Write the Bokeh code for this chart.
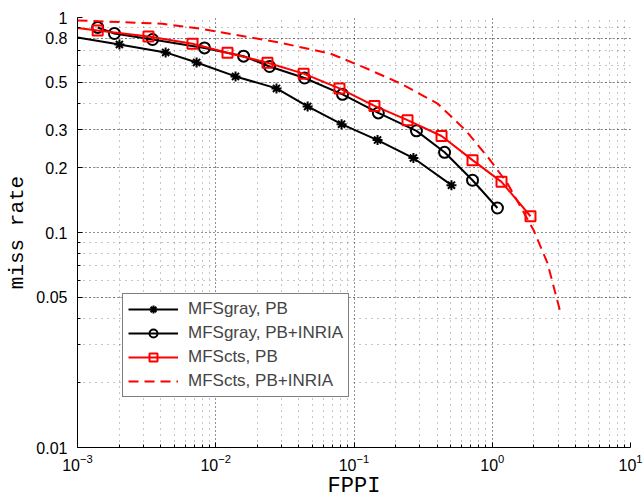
from bokeh.plotting import figure
from bokeh.models import Range1d, FixedTicker, Legend, LegendItem
from bokeh.embed import file_html
from bokeh.resources import INLINE

# ---- data ----
fppi_gray_pb = [0.001, 0.00201, 0.00434, 0.00727, 0.0139, 0.0275, 0.0462, 0.0813, 0.148, 0.269, 0.507]
mr_gray_pb = [0.808, 0.749, 0.688, 0.618, 0.532, 0.468, 0.386, 0.319, 0.269, 0.222, 0.166]

fppi_gray_inria = [0.00140, 0.00185, 0.00349, 0.00829, 0.0159, 0.0245, 0.0439, 0.0826, 0.150, 0.283, 0.452, 0.720, 1.09]
mr_gray_inria = [0.899, 0.843, 0.790, 0.722, 0.661, 0.592, 0.523, 0.439, 0.360, 0.297, 0.236, 0.175, 0.130]

fppi_cts_pb = [0.001, 0.00140, 0.00326, 0.00679, 0.01216, 0.02366, 0.0432, 0.0785, 0.1406, 0.2438, 0.4297, 0.720, 1.167, 1.89]
mr_cts_pb = [0.894, 0.870, 0.816, 0.755, 0.686, 0.616, 0.548, 0.468, 0.388, 0.333, 0.281, 0.217, 0.172, 0.119]

fppi_cts_inria = [0.001, 0.00412, 0.00776, 0.0280, 0.0676, 0.117, 0.217, 0.402, 0.641, 0.925, 1.29, 1.99, 2.51, 3.12]
mr_cts_inria = [0.969, 0.935, 0.886, 0.768, 0.679, 0.588, 0.493, 0.398, 0.299, 0.225, 0.169, 0.1027, 0.0720, 0.0422]

series_labels = ["MFSgray, PB", "MFSgray, PB+INRIA", "MFScts, PB", "MFScts, PB+INRIA"]

x_ticks = [0.001, 0.01, 0.1, 1, 10]
x_minor = [2e-3, 3e-3, 4e-3, 5e-3, 6e-3, 7e-3, 8e-3, 9e-3,
           2e-2, 3e-2, 4e-2, 5e-2, 6e-2, 7e-2, 8e-2, 9e-2,
           0.2, 0.3, 0.4, 0.5, 0.6, 0.7, 0.8, 0.9,
           2, 3, 4, 5, 6, 7, 8, 9]
y_ticks = [0.01, 0.05, 0.1, 0.2, 0.3, 0.5, 0.8, 1]
y_tick_labels = ["0.01", "0.05", "0.1", "0.2", "0.3", "0.5", "0.8", "1"]
y_minor = [0.02, 0.03, 0.04, 0.05, 0.06, 0.07, 0.08, 0.09,
           0.2, 0.3, 0.4, 0.5, 0.6, 0.7, 0.8, 0.9]

p = figure(width=643, height=501, x_axis_type="log", y_axis_type="log",
           x_range=Range1d(1e-3, 10), y_range=Range1d(0.01, 1),
           output_backend="svg", toolbar_location=None,
           min_border_left=77, min_border_right=13, min_border_top=17, min_border_bottom=53)
p.outline_line_color = None
p.background_fill_color = "white"
p.border_fill_color = "white"

p.xaxis.ticker = FixedTicker(ticks=x_ticks, minor_ticks=x_minor)
p.yaxis.ticker = FixedTicker(ticks=y_ticks, minor_ticks=y_minor)
p.yaxis.major_label_overrides = dict(zip(y_ticks, y_tick_labels))

for ax in (p.xaxis[0], p.yaxis[0]):
    ax.axis_line_color = "black"
    ax.axis_line_width = 1
    ax.major_tick_in = 5
    ax.major_tick_out = 0
    ax.minor_tick_in = 3
    ax.minor_tick_out = 0
    ax.major_tick_line_color = "black"
    ax.minor_tick_line_color = "black"
    ax.major_label_text_font = "Liberation Sans"
    ax.major_label_text_font_size = "16px"
    ax.major_label_text_color = "black"
    ax.axis_label_text_font = "Liberation Mono"
    ax.axis_label_text_font_style = "normal"
    ax.axis_label_text_color = "black"

p.xaxis.axis_label = "FPPI"
p.yaxis.axis_label = "miss rate"
p.xaxis.axis_label_text_font_size = "22px"
p.yaxis.axis_label_text_font_size = "21px"
p.xaxis.major_label_standoff = 6
p.xaxis.axis_label_standoff = 0
p.yaxis.major_label_standoff = 10
p.yaxis.axis_label_standoff = 4

p.grid.grid_line_color = "black"
p.grid.grid_line_dash = "1 3"
p.grid.grid_line_alpha = 0.85
p.grid.minor_grid_line_color = "black"
p.grid.minor_grid_line_dash = "1 5"
p.grid.minor_grid_line_alpha = 0.45

# series
l1 = p.line(fppi_gray_pb, mr_gray_pb, line_color="black", line_width=2)
s1 = p.scatter(fppi_gray_pb[1:], mr_gray_pb[1:], marker="asterisk", size=10,
               line_color="black", line_width=2)
l2 = p.line(fppi_gray_inria, mr_gray_inria, line_color="black", line_width=2)
s2 = p.scatter(fppi_gray_inria, mr_gray_inria, marker="circle", size=11,
               line_color="black", fill_color=None, line_width=2)
l3 = p.line(fppi_cts_pb, mr_cts_pb, line_color="red", line_width=2)
s3 = p.scatter(fppi_cts_pb[1:], mr_cts_pb[1:], marker="square", size=10,
               line_color="red", fill_color=None, line_width=2)
l4 = p.line(fppi_cts_inria, mr_cts_inria, line_color="red", line_width=2, line_dash="10 6")

legend = Legend(items=[
    LegendItem(label=series_labels[0], renderers=[l1, s1]),
    LegendItem(label=series_labels[1], renderers=[l2, s2]),
    LegendItem(label=series_labels[2], renderers=[l3, s3]),
    LegendItem(label=series_labels[3], renderers=[l4]),
], location=(45, 50))
legend.border_line_color = "black"
legend.border_line_width = 1
legend.background_fill_color = "white"
legend.background_fill_alpha = 1
legend.label_text_font = "Liberation Sans"
legend.label_text_font_size = "17px"
legend.glyph_width = 50
legend.glyph_height = 20
legend.label_height = 20
legend.spacing = 4
legend.padding = 5
legend.label_standoff = 10
legend.margin = 0
p.add_layout(legend)

open("out.html", "w").write(file_html(p, INLINE))
